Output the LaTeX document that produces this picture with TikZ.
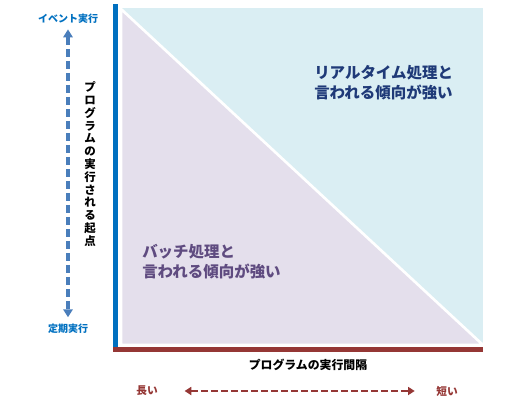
\documentclass[tikz,border=0pt]{standalone}
\usepackage{fontspec}
\setmainfont{Noto Sans CJK JP}
\usetikzlibrary{arrows.meta,positioning}

\definecolor{skyfill}{HTML}{DAEEF3}
\definecolor{lilacfill}{HTML}{E4DFEC}
\definecolor{axisblue}{HTML}{0070C0}
\definecolor{axisred}{HTML}{953735}
\definecolor{navytext}{HTML}{1F3A78}
\definecolor{plumtext}{HTML}{5F4B80}
\definecolor{arrowblue}{HTML}{4A7EBB}

\begin{document}
\begin{tikzpicture}[x=0.75pt, y=-0.75pt,
  every node/.style={font=\bfseries, inner sep=0pt},
  endlabel/.style={text=axisblue, font=\bfseries\fontsize{7.5}{9}\selectfont},
  spanlabel/.style={text=axisred, font=\bfseries\fontsize{8}{9}\selectfont},
  zonetext/.style={align=left, anchor=west, font=\bfseries\fontsize{11.6}{15}\selectfont}]
  \useasboundingbox (0,0) rectangle (531,409);

  % regions
  \fill[skyfill] (121,8) rectangle (483,345);
  \fill[lilacfill, draw=white, line width=2pt] (121,9) -- (121,345) -- (483,345) -- cycle;

  % axes
  \fill[axisblue] (113,4) rectangle (118,352);
  \fill[axisred] (113,347) rectangle (483,352);

  % vertical axis
  \node[endlabel] (event) at (68,19) {イベント実行};
  \node[endlabel] (timed) at (68,329) {定期実行};
  \draw[arrowblue, line width=2.3pt, dash pattern=on 6pt off 3pt,
        {Triangle[length=6pt,width=7pt]}-{Triangle[length=6pt,width=7pt]},
        shorten <=4pt, shorten >=5pt] (event.south) -- (timed.north);
  \node[align=center, font=\bfseries\fontsize{8.6}{9.6}\selectfont] (origin) at (90,164)
    {プ\\ロ\\グ\\ラ\\ム\\の\\実\\行\\さ\\れ\\る\\起\\点};

  % horizontal axis
  \node[font=\bfseries\fontsize{8.9}{10}\selectfont] (interval) at (308,365) {プログラムの実行間隔};
  \node[spanlabel] (long) at (147,391) {長い};
  \node[spanlabel] (short) at (447,391) {短い};
  \draw[axisred, line width=1.8pt, dash pattern=on 5pt off 2.5pt,
        {Triangle[length=5pt,width=6pt]}-{Triangle[length=5pt,width=6pt]},
        shorten <=20pt, shorten >=16pt] (long.east) -- (short.west);

  % zone labels
  \node[zonetext, text=navytext] (realtime) at (314,83) {リアルタイム処理と\\言われる傾向が強い};
  \node[zonetext, text=plumtext] (batch) at (142,262) {バッチ処理と\\言われる傾向が強い};
\end{tikzpicture}
\end{document}
